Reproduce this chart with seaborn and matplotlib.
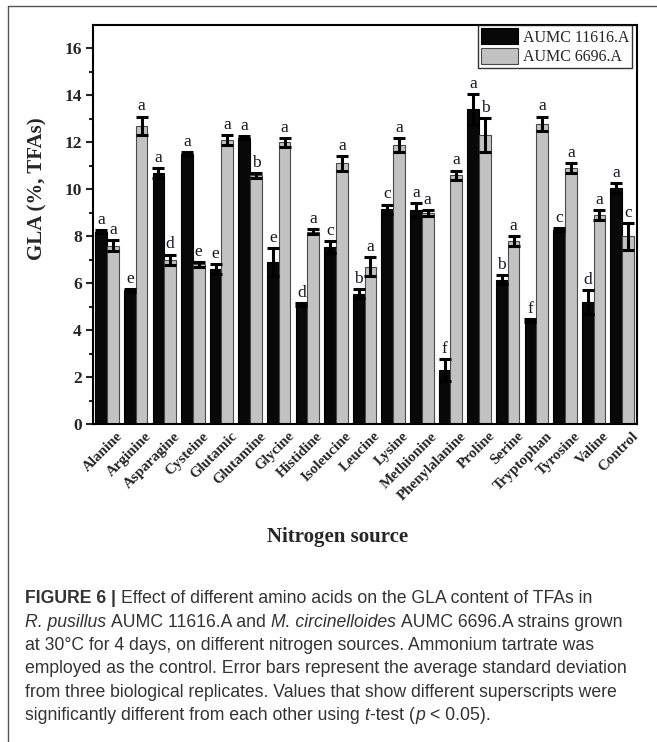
import matplotlib
matplotlib.use('Agg')
import matplotlib.pyplot as plt
import matplotlib.transforms as mtrans
import seaborn as sns
import pandas as pd
from matplotlib.patches import Patch
from matplotlib.lines import Line2D

sources = ["Alanine", "Arginine", "Asparagine", "Cysteine", "Glutamic", "Glutamine",
           "Glycine", "Histidine", "Isoleucine", "Leucine", "Lysine", "Methionine",
           "Phenylalanine", "Proline", "Serine", "Tryptophan", "Tyrosine", "Valine", "Control"]
strains = ["AUMC 11616.A", "AUMC 6696.A"]

gla_11616 = [8.2, 5.7, 10.7, 11.5, 6.6, 12.2, 6.9, 5.1, 7.55, 5.55, 9.15, 9.1, 2.3, 13.4, 6.15, 4.4, 8.28, 5.2, 10.05]
sd_11616 = [0.06, 0.06, 0.2, 0.1, 0.2, 0.06, 0.6, 0.06, 0.25, 0.2, 0.2, 0.3, 0.45, 0.65, 0.2, 0.06, 0.06, 0.5, 0.2]
sig_11616 = ["a", "e", "a", "a", "e", "a", "e", "d", "c", "b", "c", "a", "f", "a", "b", "f", "c", "d", "a"]

gla_6696 = [7.6, 12.7, 7.0, 6.8, 12.1, 10.6, 12.0, 8.2, 11.1, 6.7, 11.9, 9.0, 10.6, 12.3, 7.8, 12.8, 10.9, 8.9, 8.0]
sd_6696 = [0.25, 0.4, 0.22, 0.12, 0.2, 0.1, 0.2, 0.1, 0.3, 0.4, 0.3, 0.12, 0.2, 0.72, 0.2, 0.3, 0.2, 0.2, 0.58]
sig_6696 = ["a", "a", "d", "e", "a", "b", "a", "a", "a", "a", "a", "a", "a", "b", "a", "a", "a", "a", "c"]

yticks = [0, 2, 4, 6, 8, 10, 12, 14, 16]

df = pd.DataFrame({
    "source": sources * 2,
    "strain": [strains[0]] * len(sources) + [strains[1]] * len(sources),
    "gla": gla_11616 + gla_6696,
})

sns.set_theme(style="ticks")
plt.rcParams['font.family'] = ['Liberation Serif', 'DejaVu Serif']

W, H = 657, 742
fig = plt.figure(figsize=(W / 100, H / 100), dpi=100)
ax = fig.add_axes([93 / W, 1 - 424 / H, (637 - 93) / W, (424 - 25) / H])

colors = ["#080808", "#c2c2c2"]
edges = ["#000000", "#4a4a4a"]
sns.barplot(data=df, x="source", y="gla", hue="strain", palette=colors, saturation=1,
            width=0.82, errorbar=None, ax=ax, legend=False)

for cont, ec, sds, sigs in zip(ax.containers, edges, [sd_11616, sd_6696], [sig_11616, sig_6696]):
    xs, hs = [], []
    for b in cont:
        b.set_edgecolor(ec)
        b.set_linewidth(0.8)
        xs.append(b.get_x() + b.get_width() / 2)
        hs.append(b.get_height())
    ax.errorbar(xs, hs, yerr=sds, fmt='none', ecolor='black', elinewidth=2.2,
                capsize=4.0, capthick=2.2, zorder=5)
    for x, h, s, lab in zip(xs, hs, sds, sigs):
        ax.annotate(lab, (x, h + s), xytext=(0, 1.5), textcoords='offset points',
                    ha='center', va='bottom', fontsize=12.5, color='#14142a')

ax.set_xlim(-0.49, len(sources) - 1 + 0.52)
ax.set_ylim(0, 17)
ax.set_yticks(yticks)
ax.set_yticks(range(1, 17, 2), minor=True)
ax.tick_params(axis='y', which='major', direction='out', length=5, width=1.5, labelsize=12.5, pad=3)
ax.tick_params(axis='y', which='minor', direction='out', length=3, width=1.5)
ax.tick_params(axis='x', length=0, pad=4)
for lab in ax.get_yticklabels():
    lab.set_fontweight('bold')
ax.set_xticks(range(len(sources)))
ax.set_xticklabels(sources, rotation=45, ha='right', va='top', rotation_mode='anchor',
                   fontsize=10.8, fontweight='bold')
off = mtrans.ScaledTranslation(9 / 100, 0, fig.dpi_scale_trans)
for lab in ax.get_xticklabels():
    lab.set_transform(lab.get_transform() + off)

for sp in ax.spines.values():
    sp.set_visible(True)
    sp.set_linewidth(1.5)
    sp.set_color('black')

ax.set_ylabel("GLA (%, TFAs)", fontsize=15, fontweight='bold')
ax.yaxis.set_label_coords(-0.083, 0.59)
ax.set_xlabel("Nitrogen source", fontsize=15, fontweight='bold')
ax.xaxis.set_label_coords(0.45, -0.257)

handles = [Patch(facecolor=colors[0], edgecolor=edges[0], linewidth=0.8),
           Patch(facecolor=colors[1], edgecolor=edges[1], linewidth=0.8)]
leg = ax.legend(handles, strains, loc='upper right', bbox_to_anchor=(0.991, 1.0),
                borderaxespad=0, fontsize=11.5, frameon=True, fancybox=False,
                handlelength=2.3, handleheight=1.15, labelspacing=0.15, borderpad=0.2,
                handletextpad=0.3)
leg.get_frame().set_edgecolor('black')
leg.get_frame().set_linewidth(1.0)

# outer frame
fig.add_artist(Line2D([8 / W, 8 / W], [0, 1 - 6 / H], transform=fig.transFigure, color='#555555', lw=1.0))
fig.add_artist(Line2D([8 / W, 1], [1 - 6 / H, 1 - 6 / H], transform=fig.transFigure, color='#555555', lw=1.0))

# caption
fig.canvas.draw()
renderer = fig.canvas.get_renderer()
cap_font = ['Liberation Sans', 'DejaVu Sans']
cap_size = 12.7
cap_color = '#333333'


def text_w(s, **kw):
    t = fig.text(0, 0, s, fontsize=cap_size, family=cap_font, **kw)
    w = t.get_window_extent(renderer).width
    t.remove()
    return w


space_w = text_w("x x") - text_w("xx")

R = {}
I = {'style': 'italic'}
B = {'fontweight': 'bold'}
# (text, style, space after)
lines = [
    [("FIGURE 6 |", B, True), ("Effect of different amino acids on the GLA content of TFAs in", R, False)],
    [("R. pusillus", I, True), ("AUMC 11616.A and", R, True), ("M. circinelloides", I, True),
     ("AUMC 6696.A strains grown", R, False)],
    [("at 30°C for 4 days, on different nitrogen sources. Ammonium tartrate was", R, False)],
    [("employed as the control. Error bars represent the average standard deviation", R, False)],
    [("from three biological replicates. Values that show different superscripts were", R, False)],
    [("significantly different from each other using", R, True), ("t", I, False), ("-test (", R, False),
     ("p", I, True), ("< 0.05).", R, False)],
]
ys = [603, 627, 650, 673, 697, 720]
for pieces, y in zip(lines, ys):
    x = 25
    for txt, kw, sp in pieces:
        t = fig.text(x / W, 1 - y / H, txt, fontsize=cap_size, family=cap_font,
                     color=cap_color, va='baseline', ha='left', **kw)
        x += text_w(txt, **kw) + (space_w if sp else 0.6)

fig.savefig("out.png", dpi=100)
